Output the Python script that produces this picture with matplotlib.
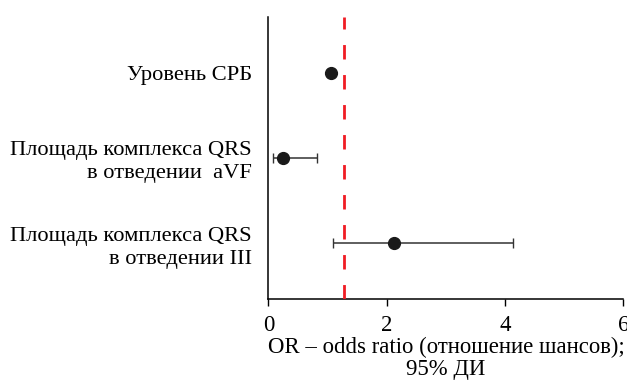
import matplotlib
matplotlib.use("Agg")
import matplotlib.pyplot as plt

labels = [
    "Уровень СРБ",
    "Площадь комплекса QRS\nв отведении  aVF",
    "Площадь комплекса QRS\nв отведении III",
]
odds_ratio = [1.05, 0.24, 2.12]
ci_low = [1.05, 0.08, 1.09]
ci_high = [1.05, 0.82, 4.13]
ref_line = 1.27
x_ticks = [0, 2, 4, 6]

plt.rcParams["font.family"] = ["Liberation Serif", "DejaVu Serif"]

fig = plt.figure(figsize=(6.27, 3.81), dpi=100)
ax = fig.add_axes([0.4282, 0.216, 0.5662, 0.739])

ypos = [3, 2, 1]
for y, or_, lo, hi in zip(ypos, odds_ratio, ci_low, ci_high):
    if hi > lo:
        ax.errorbar(or_, y, xerr=[[or_ - lo], [hi - or_]], fmt="none",
                    ecolor="#333333", elinewidth=1.1, capsize=3.5,
                    capthick=1.0, zorder=2)
    ax.plot(or_, y, "o", color="#1a1a1a", markersize=8.5, zorder=4)

ax.axvline(ref_line, color="#f01c24", linewidth=2.0,
           dashes=(5.2, 5.6), zorder=3)

ax.set_xlim(0, 6)
ax.set_ylim(0.35, 3.65)
ax.set_xticks(x_ticks)
ax.set_xticklabels([str(t) for t in x_ticks], fontsize=16.5)
ax.set_yticks(ypos)
ax.set_yticklabels(labels, fontsize=16.2, ha="right", linespacing=1.27)
ax.tick_params(axis="y", length=0, pad=12)
ax.tick_params(axis="x", length=5, width=1, direction="out", pad=6.5)
for s in ["top", "right"]:
    ax.spines[s].set_visible(False)
for s in ["left", "bottom"]:
    ax.spines[s].set_linewidth(1.1)
ax.set_xlabel("OR – odds ratio (отношение шансов);\n95% ДИ",
              fontsize=16.4, linespacing=1.05, labelpad=1)

fig.savefig("out.png", dpi=100)
